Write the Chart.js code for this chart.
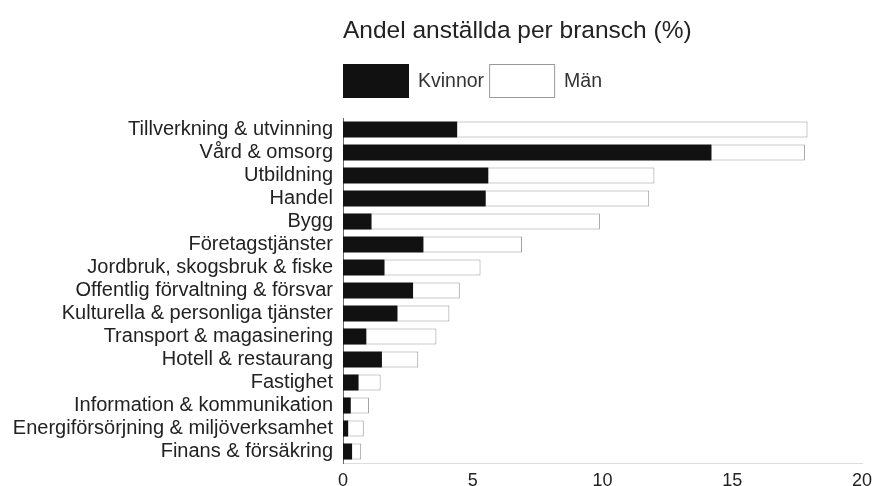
<!DOCTYPE html>
<html lang="sv">
<head>
  <meta charset="UTF-8">
  <title>Andel anställda per bransch</title>
  <script src="https://cdn.jsdelivr.net/npm/chart.js"></script>
  <style>
    html, body { margin: 0; padding: 0; background: #fff; }
    #wrap { width: 877px; height: 486px; }
  </style>
</head>
<body>
  <div id="wrap"><canvas id="chart" width="877" height="486"></canvas></div>

  <script>
    const branscher = [
      "Tillverkning & utvinning",
      "Vård & omsorg",
      "Utbildning",
      "Handel",
      "Bygg",
      "Företagstjänster",
      "Jordbruk, skogsbruk & fiske",
      "Offentlig förvaltning & försvar",
      "Kulturella & personliga tjänster",
      "Transport & magasinering",
      "Hotell & restaurang",
      "Fastighet",
      "Information & kommunikation",
      "Energiförsörjning & miljöverksamhet",
      "Finans & försäkring"
    ];
    const kvinnor = [4.4, 14.2, 5.6, 5.5, 1.1, 3.1, 1.6, 2.7, 2.1, 0.9, 1.5, 0.6, 0.3, 0.2, 0.35];
    const man     = [13.5, 3.6, 6.4, 6.3, 8.8, 3.8, 3.7, 1.8, 2.0, 2.7, 1.4, 0.85, 0.7, 0.6, 0.35];
    const xTicks = [0, 5, 10, 15, 20];

    const titleText = "Andel anställda per bransch (%)";
    const font = "'Liberation Sans', Arial, sans-serif";

    // title + legend drawn left-aligned to the plot area, like the original
    const headerPlugin = {
      id: "header",
      afterDraw(chart) {
        const ctx = chart.ctx;
        const left = chart.chartArea.left;
        ctx.save();
        ctx.fillStyle = "#222";
        ctx.textBaseline = "alphabetic";
        ctx.textAlign = "left";
        ctx.font = "24.5px " + font;
        ctx.fillText(titleText, left, 38);

        const items = chart.data.datasets;
        let x = left;
        const y = 64, w = 66, h = 34;
        ctx.font = "19.5px " + font;
        ctx.textBaseline = "middle";
        items.forEach(ds => {
          ctx.fillStyle = ds.backgroundColor;
          ctx.fillRect(x, y, w, h);
          if (ds.borderWidth) {
            ctx.strokeStyle = ds.borderColor;
            ctx.lineWidth = 1;
            ctx.strokeRect(x + 0.5, y + 0.5, w - 1, h - 1);
          }
          x += w + 9;
          ctx.fillStyle = "#333";
          ctx.fillText(ds.label, x, y + h / 2 + 1);
          x += ctx.measureText(ds.label).width + 5;
        });
        ctx.restore();
      }
    };

    new Chart(document.getElementById("chart"), {
      type: "bar",
      data: {
        labels: branscher,
        datasets: [
          {
            label: "Kvinnor",
            data: kvinnor,
            backgroundColor: "#111",
            borderWidth: 0
          },
          {
            label: "Män",
            data: man,
            backgroundColor: "#fff",
            borderColor: "#999",
            borderWidth: 1
          }
        ]
      },
      options: {
        indexAxis: "y",
        responsive: false,
        animation: false,
        layout: { padding: { top: 118, right: 15, bottom: 0, left: 0 } },
        categoryPercentage: 1,
        barPercentage: 0.7,
        scales: {
          x: {
            stacked: true,
            min: 0,
            max: 20,
            afterBuildTicks(scale) { scale.ticks = xTicks.map(v => ({ value: v })); },
            afterFit(scale) { scale.height = 23; scale.paddingRight = 0; scale.paddingLeft = 0; },
            grid: { display: false, drawTicks: false },
            border: { display: true, color: "#ddd" },
            ticks: { padding: 7, color: "#222", font: { family: font, size: 18 } }
          },
          y: {
            stacked: true,
            afterFit(scale) { scale.width = 343; },
            grid: { display: false, drawTicks: false },
            border: { display: true, color: "#666" },
            ticks: { padding: 10, color: "#222", autoSkip: false, font: { family: font, size: 20 } }
          }
        },
        plugins: {
          legend: { display: false },
          title: { display: false },
          tooltip: { enabled: false }
        }
      },
      plugins: [headerPlugin]
    });
  </script>
</body>
</html>
